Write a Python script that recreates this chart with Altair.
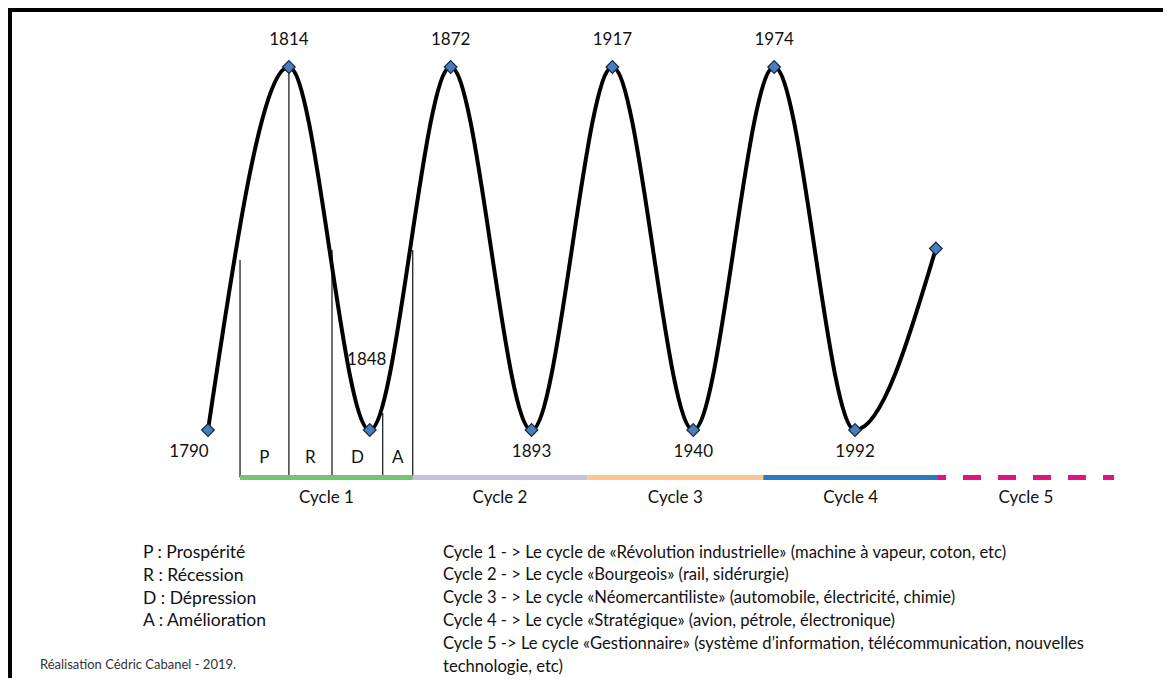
import altair as alt
import pandas as pd

# ---- data ----
# turning points of the wave (evenly spaced positions in the diagram)
point_pos = [0, 1, 2, 3, 4, 5, 6, 7, 8, 9]
point_level = [0, 1, 0, 1, 0, 1, 0, 1, 0, 0.5]
point_year = ["1790", "1814", "1848", "1872", "1893", "1917", "1940", "1974", "1992", ""]

# phase dividers of cycle 1 (position, top of the divider)
phase_x = [0.396, 1.0, 1.533, 2.16, 2.531]
phase_top = [0.468, 1.0, 0.496, 0.047, 0.496]
phase_labels = ["P", "R", "D", "A"]

# cycles along the time line
cycle_names = ["Cycle 1", "Cycle 2", "Cycle 3", "Cycle 4", "Cycle 5"]
cycle_start = [0.396, 2.531, 4.690, 6.866, 9.026]
cycle_end = [2.531, 4.690, 6.866, 9.026, 11.202]
cycle_colors = ["#78c46e", "#c6c1e0", "#fbc690", "#2a7bbd", "#e0137f"]

legend_phases = ["P : Prospérité", "R : Récession", "D : Dépression", "A : Amélioration"]
legend_cycles = [
    "Cycle 1 - > Le cycle de «Révolution industrielle» (machine à vapeur, coton, etc)",
    "Cycle 2 - > Le cycle «Bourgeois» (rail, sidérurgie)",
    "Cycle 3 - > Le cycle «Néomercantiliste» (automobile, électricité, chimie)",
    "Cycle 4 - > Le cycle «Stratégique» (avion, pétrole, électronique)",
    "Cycle 5 -> Le cycle «Gestionnaire» (système d’information, télécommunication, nouvelles",
    "technologie, etc)",
]
credit = "Réalisation Cédric Cabanel - 2019."

BASE = -0.131      # level of the coloured time line
PHASE_Y = -0.077   # level of P/R/D/A letters
CYCLE_Y = -0.186   # level of "Cycle n" labels

W, H = 1155, 670
FONT = "Lato"
INK = "#111111"

xs = alt.Scale(domain=[-2.473, 11.808], nice=False, zero=False)
ys = alt.Scale(domain=[-0.6832, 1.16253], nice=False, zero=False)

pts = pd.DataFrame({"pos": point_pos, "level": point_level, "year": point_year})
phases = pd.DataFrame({"pos": phase_x, "top": phase_top, "base": BASE})
phase_lab = pd.DataFrame({
    "pos": [(phase_x[i] + phase_x[i + 1]) / 2 for i in range(4)],
    "y": PHASE_Y,
    "lab": phase_labels,
})
cycles = pd.DataFrame({
    "name": cycle_names, "start": cycle_start, "end": cycle_end,
    "mid": [(a + b) / 2 for a, b in zip(cycle_start, cycle_end)],
    "y": BASE, "ly": CYCLE_Y, "color": cycle_colors,
})

X = alt.X("pos:Q", scale=xs, axis=None)
Y = alt.Y("level:Q", scale=ys, axis=None)

curve = alt.Chart(pts).mark_line(
    interpolate="monotone", color="black", strokeWidth=4
).encode(x=X, y=Y)

diamonds = alt.Chart(pts).mark_point(
    shape="diamond", filled=True, fill="#4a7dbb", stroke="#16283d",
    strokeWidth=1.2, size=160, opacity=1
).encode(x=X, y=Y)

peaks = alt.Chart(pts[pts.level == 1]).mark_text(
    font=FONT, fontSize=17, color=INK, dy=-27, baseline="middle"
).encode(x=X, y=Y, text="year:N")

lows = alt.Chart(pts[(pts.level == 0) & (~pts.year.isin(["1790", "1848"]))]).mark_text(
    font=FONT, fontSize=17, color=INK, dy=22, baseline="middle"
).encode(x=X, y=Y, text="year:N")

first = alt.Chart(pts[pts.year == "1790"]).mark_text(
    font=FONT, fontSize=17, color=INK, dx=-19, dy=22, baseline="middle"
).encode(x=X, y=Y, text="year:N")

y1848 = alt.Chart(pts[pts.year == "1848"]).mark_text(
    font=FONT, fontSize=17, color=INK, dx=-3, dy=-70, baseline="middle"
).encode(x=X, y=Y, text="year:N")

dividers = alt.Chart(phases).mark_rule(color="#222222", strokeWidth=1.3).encode(
    x=X, y=alt.Y("top:Q", scale=ys, axis=None), y2="base:Q"
)

phase_text = alt.Chart(phase_lab).mark_text(
    font=FONT, fontSize=17, color=INK, baseline="middle"
).encode(x=X, y=alt.Y("y:Q", scale=ys, axis=None), text="lab:N")

solid = alt.Chart(cycles.iloc[:4]).mark_rule(strokeWidth=5).encode(
    x=alt.X("start:Q", scale=xs, axis=None), x2="end:Q",
    y=alt.Y("y:Q", scale=ys, axis=None),
    color=alt.Color("color:N", scale=None),
)
dashed = alt.Chart(cycles.iloc[4:]).mark_rule(
    strokeWidth=5, strokeDash=[18, 17], strokeDashOffset=10
).encode(
    x=alt.X("start:Q", scale=xs, axis=None), x2="end:Q",
    y=alt.Y("y:Q", scale=ys, axis=None),
    color=alt.Color("color:N", scale=None),
)

cycle_text = alt.Chart(cycles).mark_text(
    font=FONT, fontSize=17, color=INK, baseline="middle"
).encode(x=alt.X("mid:Q", scale=xs, axis=None),
         y=alt.Y("ly:Q", scale=ys, axis=None), text="name:N")

leg1 = alt.Chart(pd.DataFrame({"t": ["\n".join(legend_phases)]})).mark_text(
    font=FONT, fontSize=17.5, color=INK, align="left", baseline="top",
    lineBreak="\n", lineHeight=22.8
).encode(x=alt.value(135), y=alt.value(536), text="t:N")

leg2 = alt.Chart(pd.DataFrame({"t": ["\n".join(legend_cycles)]})).mark_text(
    font=FONT, fontSize=16.6, color=INK, align="left", baseline="top",
    lineBreak="\n", lineHeight=22.8
).encode(x=alt.value(435), y=alt.value(536.5), text="t:N")

foot = alt.Chart(pd.DataFrame({"t": [credit]})).mark_text(
    font=FONT, fontSize=13, color="#333333", align="left", baseline="top"
).encode(x=alt.value(32), y=alt.value(651), text="t:N")

frame_top = alt.Chart(pd.DataFrame({"a": [0]})).mark_rule(
    color="black", strokeWidth=4
).encode(x=alt.value(0), x2=alt.value(W), y=alt.value(2))
frame_left = alt.Chart(pd.DataFrame({"a": [0]})).mark_rule(
    color="black", strokeWidth=4
).encode(x=alt.value(2), y=alt.value(0), y2=alt.value(H))

chart = alt.layer(
    frame_top, frame_left,
    dividers, solid, dashed, curve, diamonds,
    peaks, lows, first, y1848, phase_text, cycle_text,
    leg1, leg2, foot,
).properties(
    width=W, height=H, padding=0, autosize=alt.AutoSizeParams(type="none"),
    background="white",
).configure_view(stroke=None)

chart.save("out.html", embed_options={"renderer": "svg", "actions": False})
